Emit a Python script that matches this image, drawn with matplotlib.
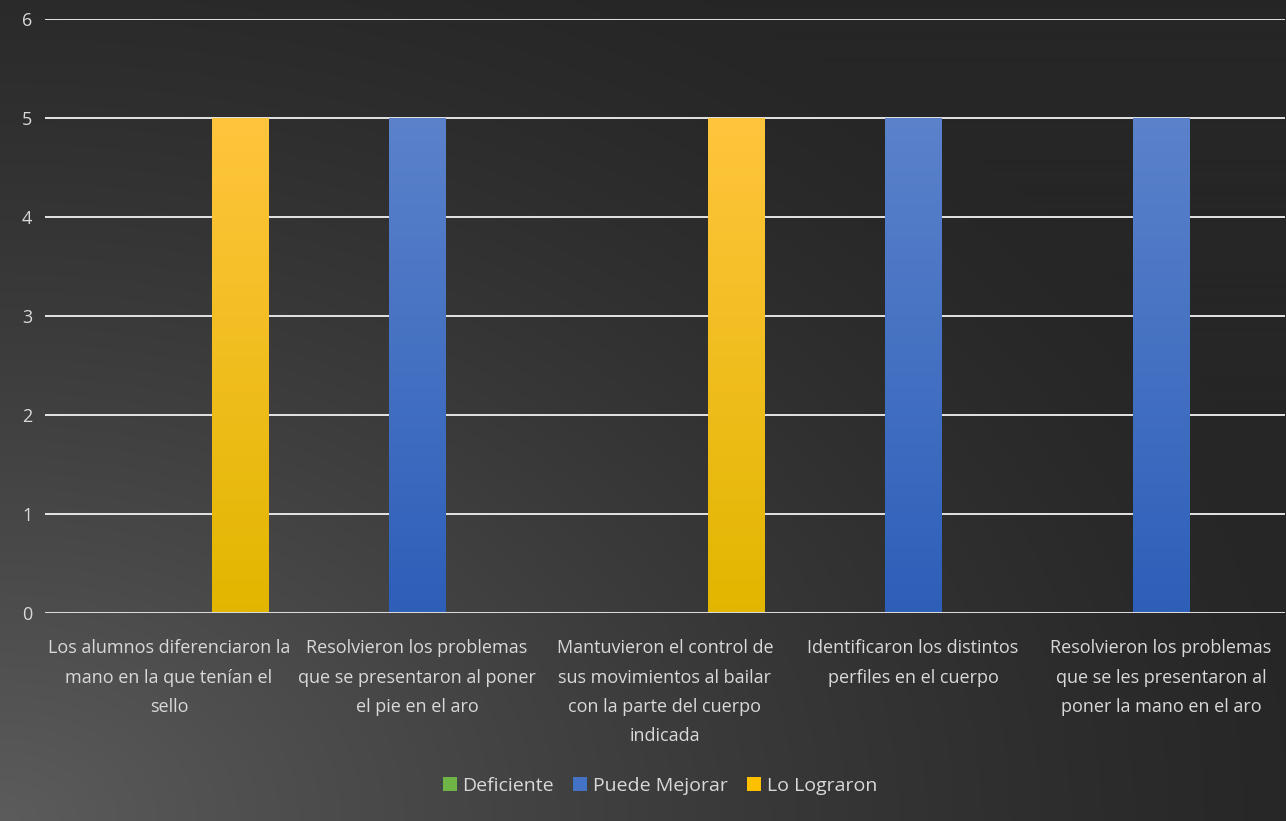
import numpy as np
import matplotlib
matplotlib.use("Agg")
import matplotlib.pyplot as plt
from matplotlib.patches import Patch
from matplotlib.colors import LinearSegmentedColormap

categories = [
    "Los alumnos diferenciaron la\nmano en la que tenían el\nsello",
    "Resolvieron los problemas\nque se presentaron al poner\nel pie en el aro",
    "Mantuvieron el control de\nsus movimientos al bailar\ncon la parte del cuerpo\nindicada",
    "Identificaron los distintos\nperfiles en el cuerpo",
    "Resolvieron los problemas\nque se les presentaron al\nponer la mano en el aro",
]
series_names = ["Deficiente", "Puede Mejorar", "Lo Lograron"]
deficiente = [0, 0, 0, 0, 0]
puede_mejorar = [0, 5, 0, 5, 5]
lo_lograron = [5, 0, 5, 0, 0]
yticks = [0, 1, 2, 3, 4, 5, 6]

plt.rcParams['font.family'] = ['Open Sans', 'DejaVu Sans']

W, H = 1286, 821
fig = plt.figure(figsize=(W / 100, H / 100), dpi=100)

# background radial gradient
bg = fig.add_axes([0, 0, 1, 1], zorder=-10)
yy, xx = np.mgrid[0:H, 0:W]
d = np.sqrt((xx / W * 1.0) ** 2 + ((H - yy) / H * 0.9) ** 2)
d = np.clip(d / 1.05, 0, 1)
v = 0x5c / 255 * (1 - d) ** 1.3 + 0x26 / 255 * (1 - (1 - d) ** 1.3)
bg.imshow(np.dstack([v, v, v]), aspect='auto', extent=[0, 1, 0, 1], origin='upper')
bg.axis('off')

ax = fig.add_axes([45 / W, (H - 613) / H, (1285 - 45) / W, (613 - 19) / H])
ax.patch.set_alpha(0)

x = np.arange(len(categories))
bw = 0.226
off = 0.286
colors_top = ["#7cbd4f", "#5b82cb", "#ffc53d"]
colors_bot = ["#62a33a", "#2d5fb9", "#e2b600"]
data = [deficiente, puede_mejorar, lo_lograron]

for i, (vals, ct, cb) in enumerate(zip(data, colors_top, colors_bot)):
    bars = ax.bar(x + (i - 1) * off, vals, bw, color=cb, zorder=3, linewidth=0)
    cmap = LinearSegmentedColormap.from_list("g%d" % i, [cb, ct])
    grad = np.linspace(0, 1, 256).reshape(-1, 1)
    for b in bars:
        if b.get_height() <= 0:
            continue
        bx, by = b.get_x(), b.get_y()
        bwid, bh = b.get_width(), b.get_height()
        im = ax.imshow(grad, cmap=cmap, aspect='auto', origin='lower',
                       extent=[bx, bx + bwid, by, by + bh], zorder=4)
        im.set_clip_path(b)

ax.set_xlim(-0.5, len(categories) - 0.5)
ax.set_ylim(0, 6)
ax.set_yticks(yticks)
ax.set_yticklabels([str(t) for t in yticks])
ax.set_xticks(x)
ax.set_xticklabels(categories)
ax.grid(axis='y', color='#f2f2f2', linewidth=1.3, zorder=1)
ax.axhline(0, color='#d9d9d9', linewidth=2.2, zorder=5)
for s in ax.spines.values():
    s.set_visible(False)
ax.tick_params(axis='both', length=0, colors='#d9d9d9', labelsize=13)
ax.tick_params(axis='y', pad=9)
ax.tick_params(axis='x', pad=19)
for lab in ax.get_xticklabels():
    lab.set_linespacing(1.8)

handles = [Patch(facecolor=c, edgecolor='none') for c in ["#6fb545", "#4472c4", "#ffc000"]]
fig.legend(handles, series_names, loc='center', bbox_to_anchor=(660 / W, (H - 786) / H),
           ncol=3, frameon=False, fontsize=14, labelcolor='#d9d9d9',
           handlelength=0.7, handleheight=0.7, handletextpad=0.3, columnspacing=1.0)

fig.savefig("out.png", dpi=100)
